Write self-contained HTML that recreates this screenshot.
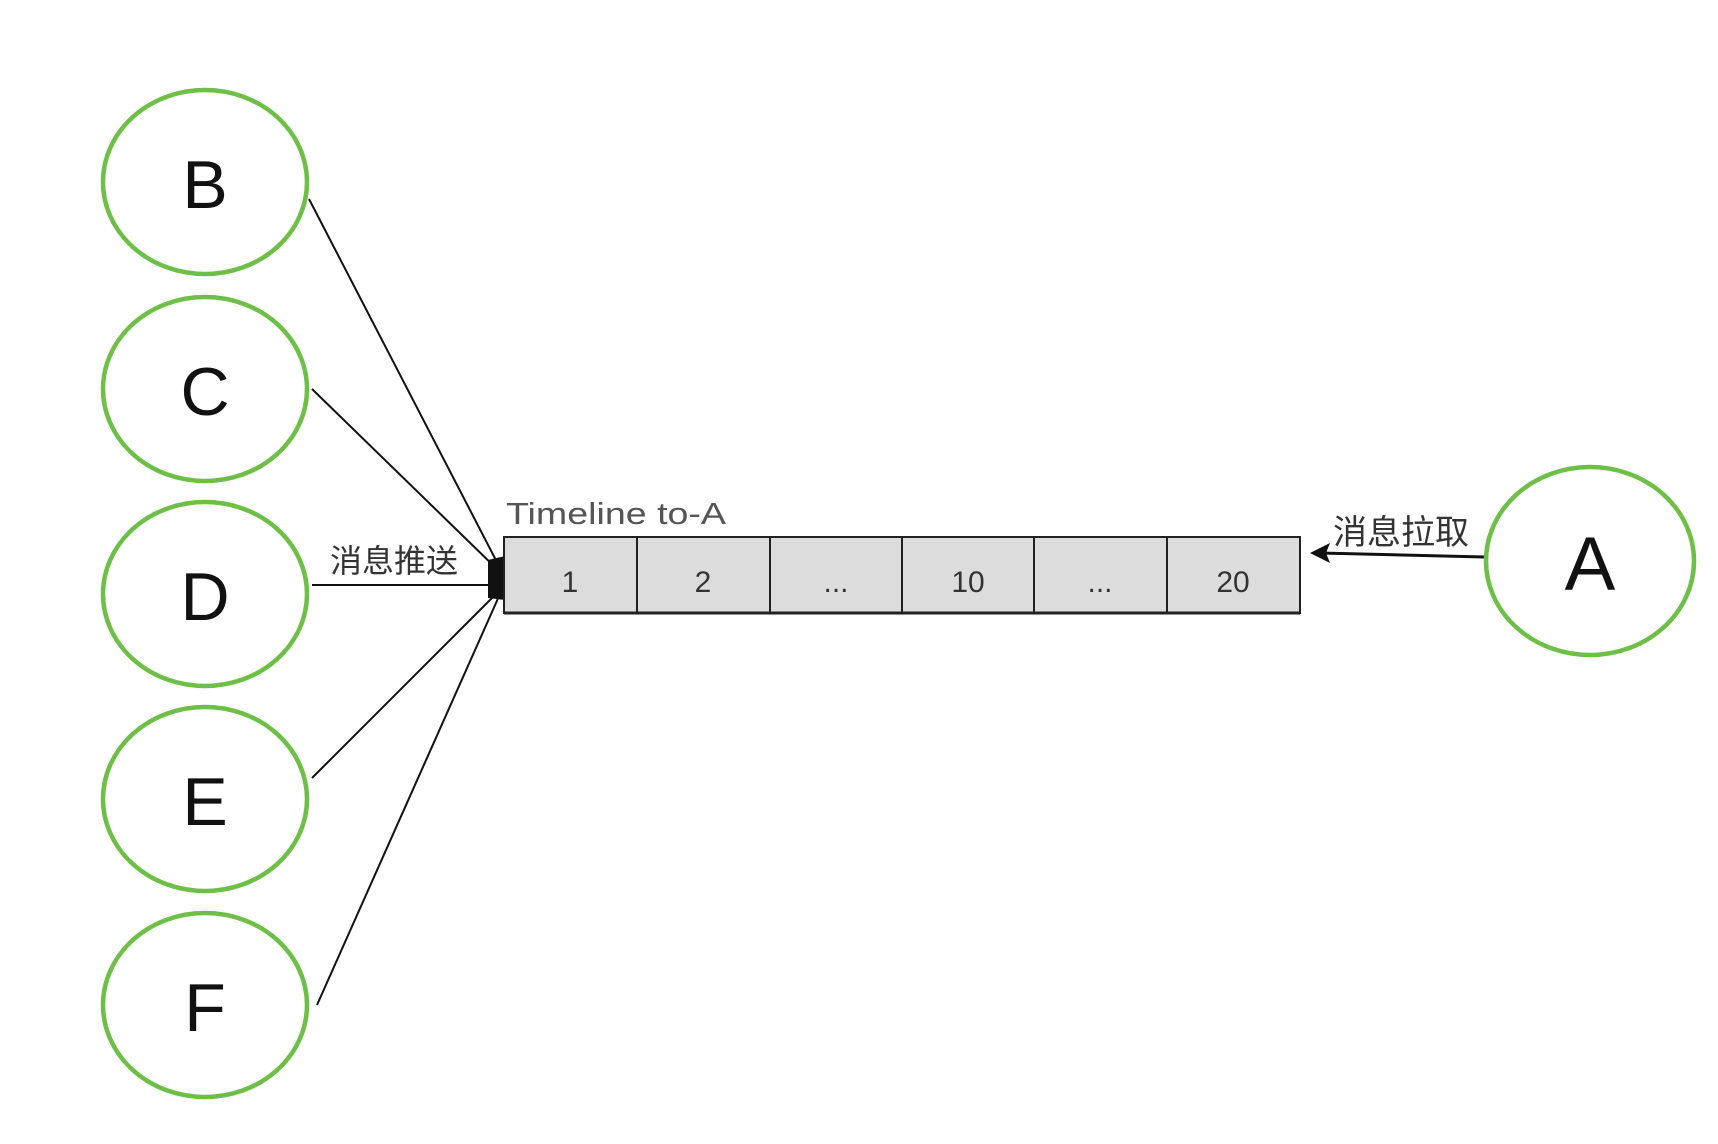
<!DOCTYPE html>
<html><head><meta charset="utf-8"><style>
html,body{margin:0;padding:0;background:#fff;}
svg{display:block;}
</style></head><body>
<svg width="1718" height="1144" viewBox="0 0 1718 1144" xmlns="http://www.w3.org/2000/svg">
<g stroke="#111" stroke-width="2" fill="none">
<line x1="309" y1="199" x2="500" y2="568"/>
<line x1="312" y1="389" x2="500" y2="572"/>
<line x1="312" y1="585" x2="500" y2="585"/>
<line x1="312" y1="778" x2="500" y2="590"/>
<line x1="317" y1="1005" x2="500" y2="594"/>
<line x1="1484" y1="557" x2="1320" y2="553" stroke-width="3"/>
</g>
<path d="M1310 553 L1330 543 L1326 553 L1330 563 Z" fill="#111"/>
<path d="M488 560 L505 556 L505 600 L488 598 Z" fill="#111"/>
<rect x="504" y="537" width="796" height="76" fill="#dcdcdc" stroke="#222" stroke-width="2"/>
<line x1="504" y1="613" x2="1300" y2="613" stroke="#222" stroke-width="3"/>
<g stroke="#222" stroke-width="2">
<line x1="637" y1="537" x2="637" y2="613"/>
<line x1="770" y1="537" x2="770" y2="613"/>
<line x1="902" y1="537" x2="902" y2="613"/>
<line x1="1034" y1="537" x2="1034" y2="613"/>
<line x1="1167" y1="537" x2="1167" y2="613"/>
</g>
<g font-family="Liberation Sans, sans-serif" font-size="30" fill="#333" text-anchor="middle">
<text x="570" y="592">1</text>
<text x="703" y="592">2</text>
<text x="836" y="592">...</text>
<text x="968" y="592">10</text>
<text x="1100" y="592">...</text>
<text x="1233" y="592">20</text>
</g>
<text x="506" y="524" font-family="Liberation Sans, sans-serif" font-size="31" fill="#555" textLength="220" lengthAdjust="spacingAndGlyphs">Timeline to-A</text>
<text x="330" y="572" font-family="Liberation Sans, 'Noto Sans CJK SC', sans-serif" font-size="32" fill="#333">消息推送</text>
<text x="1333" y="544" font-family="Liberation Sans, 'Noto Sans CJK SC', sans-serif" font-size="34" fill="#333">消息拉取</text>
<g fill="#fff" stroke="#6ebf47" stroke-width="4.5">
<ellipse cx="205" cy="182" rx="102" ry="92"/>
<ellipse cx="205" cy="389" rx="102" ry="92"/>
<ellipse cx="205" cy="594" rx="102" ry="92"/>
<ellipse cx="205" cy="799" rx="102" ry="92"/>
<ellipse cx="205" cy="1005" rx="102" ry="92"/>
<ellipse cx="1590" cy="561" rx="104" ry="94"/>
</g>
<g font-family="Liberation Sans, sans-serif" font-size="68" fill="#111" text-anchor="middle">
<text x="205" y="208">B</text>
<text x="205" y="415">C</text>
<text x="205" y="620">D</text>
<text x="205" y="825">E</text>
<text x="205" y="1031">F</text>
<text x="1590" y="590" font-size="76">A</text>
</g>
</svg>
</body></html>
